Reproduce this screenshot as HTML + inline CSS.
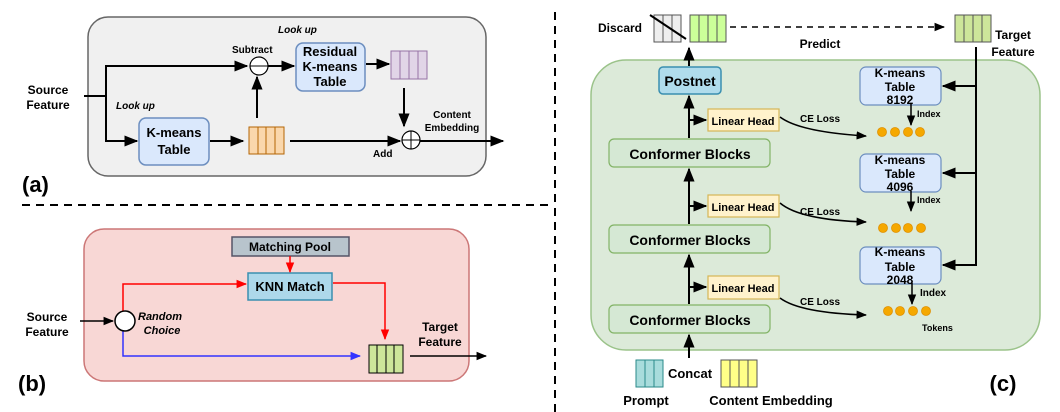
<!DOCTYPE html>
<html><head><meta charset="utf-8"><style>
html,body{margin:0;padding:0;background:#fff}
svg{display:block;font-family:"Liberation Sans",sans-serif;font-weight:bold}
</style></head><body>
<svg width="1060" height="412" viewBox="0 0 1060 412" xmlns="http://www.w3.org/2000/svg">
<defs>
<marker id="a" viewBox="0 0 10 10" refX="9" refY="5" markerWidth="7" markerHeight="7" orient="auto"><path d="M0,1 L10,5 L0,9 z" fill="#000"/></marker>
<marker id="r" viewBox="0 0 10 10" refX="9" refY="5" markerWidth="7" markerHeight="7" orient="auto"><path d="M0,1 L10,5 L0,9 z" fill="#f00"/></marker>
<marker id="b" viewBox="0 0 10 10" refX="9" refY="5" markerWidth="7" markerHeight="7" orient="auto"><path d="M0,1 L10,5 L0,9 z" fill="#33f"/></marker>
</defs>
<!-- dividers -->
<line x1="22" y1="205" x2="548" y2="205" stroke="#000" stroke-width="2" stroke-dasharray="8,6"/>
<line x1="555" y1="12" x2="555" y2="412" stroke="#000" stroke-width="2" stroke-dasharray="8,6"/>

<!-- (a) -->
<rect x="88" y="17" width="398" height="159" rx="20" fill="#f0f0f0" stroke="#666" stroke-width="1.5"/>
<g font-size="12" text-anchor="middle">
<text x="48" y="94">Source</text><text x="48" y="109">Feature</text>
</g>
<polyline points="84,96 106,96" fill="none" stroke="#000" stroke-width="2"/>
<polyline points="106,141 106,66 247,66" fill="none" stroke="#000" stroke-width="2" marker-end="url(#a)"/>
<polyline points="106,96 106,141 137,141" fill="none" stroke="#000" stroke-width="2" marker-end="url(#a)"/>
<circle cx="259" cy="66" r="9" fill="#fff" stroke="#000" stroke-width="1.2"/>
<line x1="250" y1="66" x2="268" y2="66" stroke="#000" stroke-width="1"/>
<line x1="268" y1="66" x2="294" y2="66" stroke="#000" stroke-width="2" marker-end="url(#a)"/>
<rect x="296" y="43" width="69" height="48" rx="7" fill="#dae8fc" stroke="#6c8ebf" stroke-width="1.5"/>
<g font-size="13" text-anchor="middle"><text x="330" y="56">Residual</text><text x="330" y="71">K-means</text><text x="330" y="86">Table</text></g>
<line x1="366" y1="64" x2="389" y2="64" stroke="#000" stroke-width="2" marker-end="url(#a)"/>
<g fill="#e1d5e7" stroke="#9673a6" stroke-width="1"><rect x="391" y="51" width="36" height="28"/><line x1="400" y1="51" x2="400" y2="79"/><line x1="409" y1="51" x2="409" y2="79"/><line x1="418" y1="51" x2="418" y2="79"/></g>
<line x1="404" y1="88" x2="404" y2="126" stroke="#000" stroke-width="2" marker-end="url(#a)"/>
<rect x="139" y="118" width="70" height="47" rx="7" fill="#dae8fc" stroke="#6c8ebf" stroke-width="1.5"/>
<g font-size="13" text-anchor="middle"><text x="174" y="137">K-means</text><text x="174" y="154">Table</text></g>
<line x1="210" y1="141" x2="243" y2="141" stroke="#000" stroke-width="2" marker-end="url(#a)"/>
<g fill="#fad7ac" stroke="#b46504" stroke-width="1"><rect x="249" y="127" width="35" height="27"/><line x1="258" y1="127" x2="258" y2="154"/><line x1="266" y1="127" x2="266" y2="154"/><line x1="275" y1="127" x2="275" y2="154"/></g>
<line x1="257" y1="118" x2="257" y2="77" stroke="#000" stroke-width="2" marker-end="url(#a)"/>
<line x1="290" y1="141" x2="400" y2="141" stroke="#000" stroke-width="2" marker-end="url(#a)"/>
<line x1="420" y1="141" x2="503" y2="141" stroke="#000" stroke-width="2" marker-end="url(#a)"/>
<circle cx="411" cy="140" r="9" fill="#fff" stroke="#000" stroke-width="1.2"/>
<line x1="402" y1="140" x2="420" y2="140" stroke="#000"/><line x1="411" y1="131" x2="411" y2="149" stroke="#000"/>
<g font-size="10"><text x="278" y="33" font-style="italic">Look up</text><text x="116" y="109" font-style="italic">Look up</text>
<text x="232" y="53">Subtract</text><text x="373" y="157">Add</text>
<text x="452" y="118" text-anchor="middle">Content</text><text x="452" y="131" text-anchor="middle">Embedding</text></g>
<text x="22" y="192" font-size="22">(a)</text>

<!-- (b) -->
<rect x="84" y="229" width="385" height="152" rx="20" fill="#f8d7d5" stroke="#c77" stroke-width="1.5"/>
<rect x="232" y="237" width="117" height="19" fill="#b8c4cc" stroke="#556" stroke-width="1.5"/>
<text x="290" y="251" font-size="12" text-anchor="middle">Matching Pool</text>
<rect x="248" y="273" width="84" height="27" fill="#add8ea" stroke="#3a8fb0" stroke-width="1.5"/>
<text x="290" y="291" font-size="13" text-anchor="middle">KNN Match</text>
<line x1="290" y1="256" x2="290" y2="272" stroke="#f00" stroke-width="1.5" marker-end="url(#r)"/>
<polyline points="123,311 123,284 246,284" fill="none" stroke="#f00" stroke-width="1.5" marker-end="url(#r)"/>
<polyline points="333,283 385,283 385,339" fill="none" stroke="#f00" stroke-width="1.5" marker-end="url(#r)"/>
<polyline points="123,331 123,356 360,356" fill="none" stroke="#33f" stroke-width="1.5" marker-end="url(#b)"/>
<line x1="80" y1="321" x2="113" y2="321" stroke="#000" stroke-width="1.5" marker-end="url(#a)"/>
<circle cx="125" cy="321" r="10" fill="#fff" stroke="#000" stroke-width="1.5"/>
<g fill="#cde69a" stroke="#000" stroke-width="1"><rect x="369" y="345" width="34" height="28"/><line x1="377" y1="345" x2="377" y2="373"/><line x1="386" y1="345" x2="386" y2="373"/><line x1="394" y1="345" x2="394" y2="373"/></g>
<line x1="410" y1="356" x2="486" y2="356" stroke="#000" stroke-width="1.5" marker-end="url(#a)"/>
<g font-size="12" text-anchor="middle"><text x="47" y="321">Source</text><text x="47" y="336">Feature</text>
<text x="440" y="331">Target</text><text x="440" y="346">Feature</text>
<text x="160" y="320" font-style="italic" font-size="11">Random</text><text x="162" y="334" font-style="italic" font-size="11">Choice</text></g>
<text x="18" y="391" font-size="22">(b)</text>

<!-- (c) -->
<rect x="591" y="60" width="449" height="290" rx="35" fill="#dcead9" stroke="#9bc38a" stroke-width="1.5"/>
<text x="620" y="32" font-size="12" text-anchor="middle">Discard</text>
<g fill="#eee" stroke="#555" stroke-width="1"><rect x="654" y="15" width="27" height="27"/><line x1="663" y1="15" x2="663" y2="42"/><line x1="672" y1="15" x2="672" y2="42"/></g>
<line x1="650" y1="15" x2="686" y2="39" stroke="#000" stroke-width="2"/>
<g fill="#ccff99" stroke="#555" stroke-width="1"><rect x="690" y="15" width="36" height="27"/><line x1="699" y1="15" x2="699" y2="42"/><line x1="708" y1="15" x2="708" y2="42"/><line x1="717" y1="15" x2="717" y2="42"/></g>
<line x1="730" y1="27" x2="944" y2="27" stroke="#000" stroke-width="1.5" stroke-dasharray="6,5" marker-end="url(#a)"/>
<g fill="#cde69a" stroke="#555" stroke-width="1"><rect x="955" y="15" width="36" height="27"/><line x1="964" y1="15" x2="964" y2="42"/><line x1="973" y1="15" x2="973" y2="42"/><line x1="982" y1="15" x2="982" y2="42"/></g>
<g font-size="12"><text x="1013" y="39" text-anchor="middle">Target</text><text x="1013" y="56" text-anchor="middle">Feature</text>
<text x="820" y="48" text-anchor="middle">Predict</text></g>
<line x1="689" y1="66" x2="689" y2="48" stroke="#000" stroke-width="2" marker-end="url(#a)"/>
<rect x="659" y="67" width="62" height="27" rx="4" fill="#b0dcec" stroke="#3a8fb0" stroke-width="1.5"/>
<text x="690" y="86" font-size="14" text-anchor="middle">Postnet</text>
<!-- main vertical -->
<line x1="689" y1="138" x2="689" y2="96" stroke="#000" stroke-width="2" marker-end="url(#a)"/>
<line x1="689" y1="224" x2="689" y2="169" stroke="#000" stroke-width="2" marker-end="url(#a)"/>
<line x1="689" y1="304" x2="689" y2="255" stroke="#000" stroke-width="2" marker-end="url(#a)"/>
<line x1="689" y1="358" x2="689" y2="335" stroke="#000" stroke-width="2" marker-end="url(#a)"/>
<line x1="689" y1="120" x2="706" y2="120" stroke="#000" stroke-width="2" marker-end="url(#a)"/>
<line x1="689" y1="206" x2="706" y2="206" stroke="#000" stroke-width="2" marker-end="url(#a)"/>
<line x1="689" y1="287" x2="706" y2="287" stroke="#000" stroke-width="2" marker-end="url(#a)"/>
<g fill="#d5e8d4" stroke="#82b366" stroke-width="1.2">
<rect x="609" y="139" width="161" height="28" rx="5"/><rect x="609" y="225" width="161" height="28" rx="5"/><rect x="609" y="305" width="161" height="28" rx="5"/></g>
<g font-size="14" text-anchor="middle"><text x="690" y="159">Conformer Blocks</text><text x="690" y="245">Conformer Blocks</text><text x="690" y="325">Conformer Blocks</text></g>
<g fill="#fff2cc" stroke="#d6b656" stroke-width="1.2">
<rect x="708" y="109" width="71" height="22"/><rect x="708" y="195" width="71" height="22"/><rect x="708" y="276" width="71" height="23"/></g>
<g font-size="11" text-anchor="middle"><text x="743" y="125">Linear Head</text><text x="743" y="211">Linear Head</text><text x="743" y="292">Linear Head</text></g>
<g fill="none" stroke="#000" stroke-width="1.5">
<path d="M780,117 Q800,132 866,136" marker-end="url(#a)"/>
<path d="M780,203 Q800,220 866,222" marker-end="url(#a)"/>
<path d="M780,298 Q800,313 866,315" marker-end="url(#a)"/></g>
<g font-size="10"><text x="800" y="122">CE Loss</text><text x="800" y="215">CE Loss</text><text x="800" y="305">CE Loss</text></g>
<g fill="#dae8fc" stroke="#6c8ebf" stroke-width="1.2">
<rect x="860" y="67" width="81" height="38" rx="6"/><rect x="860" y="154" width="81" height="38" rx="6"/><rect x="860" y="247" width="81" height="37" rx="6"/></g>
<g font-size="12" text-anchor="middle">
<text x="900" y="77">K-means</text><text x="900" y="91">Table</text><text x="900" y="104">8192</text>
<text x="900" y="164">K-means</text><text x="900" y="178">Table</text><text x="900" y="191">4096</text>
<text x="900" y="256">K-means</text><text x="900" y="271">Table</text><text x="900" y="284">2048</text></g>
<polyline points="976,47 976,265 943,265" fill="none" stroke="#000" stroke-width="2" marker-end="url(#a)"/>
<line x1="976" y1="86" x2="943" y2="86" stroke="#000" stroke-width="2" marker-end="url(#a)"/>
<line x1="976" y1="173" x2="943" y2="173" stroke="#000" stroke-width="2" marker-end="url(#a)"/>
<line x1="911" y1="104" x2="911" y2="125" stroke="#000" stroke-width="1.5" marker-end="url(#a)"/>
<line x1="911" y1="191" x2="911" y2="211" stroke="#000" stroke-width="1.5" marker-end="url(#a)"/>
<line x1="912" y1="283" x2="912" y2="304" stroke="#000" stroke-width="1.5" marker-end="url(#a)"/>
<g font-size="9"><text x="917" y="117">Index</text><text x="917" y="203">Index</text><text x="920" y="296" font-size="10">Index</text><text x="922" y="331">Tokens</text></g>
<g fill="#f5a800" stroke="#e09000" stroke-width="0.8">
<circle cx="882" cy="132" r="4.5"/><circle cx="895" cy="132" r="4.5"/><circle cx="908" cy="132" r="4.5"/><circle cx="920" cy="132" r="4.5"/>
<circle cx="883" cy="228" r="4.5"/><circle cx="896" cy="228" r="4.5"/><circle cx="908" cy="228" r="4.5"/><circle cx="921" cy="228" r="4.5"/>
<circle cx="888" cy="311" r="4.5"/><circle cx="900" cy="311" r="4.5"/><circle cx="913" cy="311" r="4.5"/><circle cx="926" cy="311" r="4.5"/></g>
<g fill="#a8dcdc" stroke="#2a8a8a" stroke-width="1"><rect x="636" y="360" width="27" height="27"/><line x1="645" y1="360" x2="645" y2="387"/><line x1="654" y1="360" x2="654" y2="387"/></g>
<g fill="#ffff88" stroke="#555" stroke-width="1"><rect x="721" y="360" width="36" height="27"/><line x1="730" y1="360" x2="730" y2="387"/><line x1="739" y1="360" x2="739" y2="387"/><line x1="748" y1="360" x2="748" y2="387"/></g>
<g font-size="13" text-anchor="middle"><text x="690" y="378">Concat</text><text x="646" y="405">Prompt</text><text x="771" y="405">Content Embedding</text></g>
<text x="1003" y="391" font-size="22" text-anchor="middle">(c)</text>
</svg>
</body></html>
